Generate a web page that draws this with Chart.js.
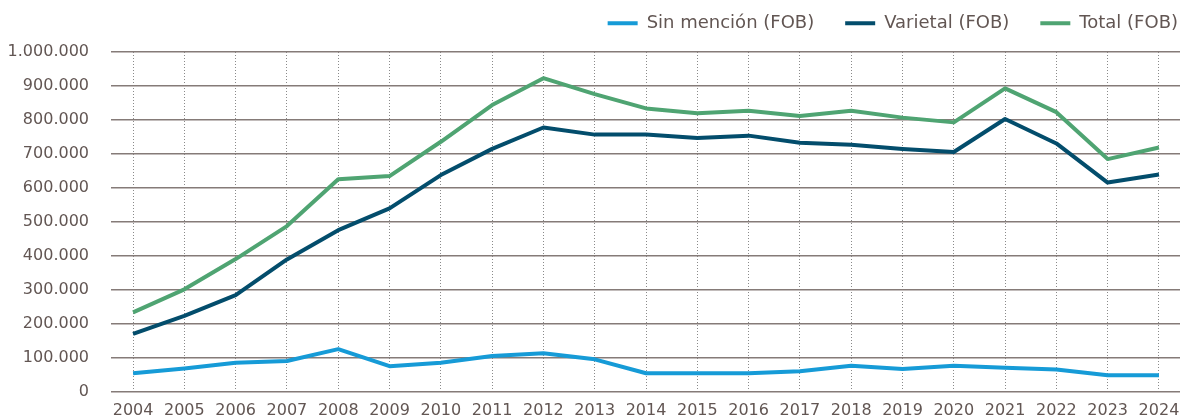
<!DOCTYPE html>
<html><head><meta charset="utf-8">
<script src="https://cdn.jsdelivr.net/npm/chart.js@4.4.1/dist/chart.umd.min.js"></script>
<style>html,body{margin:0;padding:0;background:#fff}#wrap{width:1180px;height:419px;position:relative}</style>
</head><body><div id="wrap"><canvas id="c"></canvas></div>
<script>
const years = [2004,2005,2006,2007,2008,2009,2010,2011,2012,2013,2014,2015,2016,2017,2018,2019,2020,2021,2022,2023,2024];
const sinMencion = [55000,69000,86000,91000,126000,76000,86000,106000,114000,96000,55000,55000,55000,61000,77000,68000,77000,71000,66000,49000,49000];
const varietal = [171000,224000,285000,390000,476000,540000,638000,715000,778000,757000,757000,747000,754000,733000,727000,715000,706000,803000,731000,616000,640000];
const total = [234000,302000,391000,488000,626000,635000,736000,844000,923000,876000,834000,820000,827000,812000,827000,807000,793000,893000,823000,685000,719000];
const seriesNames = ['Sin mención (FOB)','Varietal (FOB)','Total (FOB)'];
const seriesColors = ['#169bd7','#034d6c','#4fa472'];
const yTickValues = [0,100000,200000,300000,400000,500000,600000,700000,800000,900000,1000000];

const textColor = '#625653';
function pts(arr){ return years.map((y,i)=>({x:y,y:arr[i]})); }
function fmt(v){ return String(v).replace(/\B(?=(\d{3})+(?!\d))/g,'.'); }

const legendTweak = {
  id:'legendTweak',
  beforeInit(chart){
    const lg = chart.legend;
    if(lg){
      const fit = lg.fit;
      lg.fit = function(){ fit.call(this); this.height = 52; };
    }
  },
  afterLayout(chart){
    const lg = chart.legend;
    if(lg){ lg.left += 29; lg.right += 29; lg.top -= 16.8; lg.bottom -= 16.8; }
  }
};

new Chart(document.getElementById('c'), {
  type:'line',
  data:{
    datasets:[sinMencion,varietal,total].map((arr,i)=>({
      label:seriesNames[i],
      data:pts(arr),
      borderColor:seriesColors[i],
      backgroundColor:seriesColors[i],
      borderWidth:4,
      pointRadius:0,
      tension:0,
      borderJoinStyle:'round',
      borderCapStyle:'butt'
    }))
  },
  options:{
    responsive:true,
    maintainAspectRatio:false,
    animation:false,
    layout:{padding:{top:0,left:0,right:0,bottom:0}},
    plugins:{
      legend:{
        position:'top',
        align:'end',
        labels:{
          usePointStyle:true,
          pointStyle:'line',
          pointStyleWidth:30,
          padding:31,
          color:textColor,
          font:{family:'DejaVu Sans',size:18}
        }
      },
      tooltip:{enabled:false}
    },
    scales:{
      x:{
        type:'linear',
        min:2003.57,
        max:2024.41,
        afterBuildTicks(scale){ scale.ticks = years.map(v=>({value:v})); },
        afterFit(scale){ scale.height = 27; scale.paddingLeft = 0; scale.paddingRight = 0; },
        border:{display:false,dash:[1,2]},
        grid:{color:'#8a8a8a',lineWidth:1,drawTicks:false},
        ticks:{
          padding:9,
          color:textColor,
          font:{family:'DejaVu Sans',size:16},
          maxRotation:0,
          autoSkip:false,
          callback:(v)=>String(v)
        }
      },
      y:{
        min:0,
        max:1000000,
        afterBuildTicks(scale){ scale.ticks = yTickValues.map(v=>({value:v})); },
        afterFit(scale){ scale.width = 111; scale.paddingTop = 0; scale.paddingBottom = 0; },
        border:{display:false},
        grid:{color:'#857b78',lineWidth:1.5,drawTicks:false},
        ticks:{
          padding:22,
          color:textColor,
          font:{family:'DejaVu Sans',size:16},
          callback:(v)=>fmt(v)
        }
      }
    }
  },
  plugins:[legendTweak]
});
</script>
</body></html>
